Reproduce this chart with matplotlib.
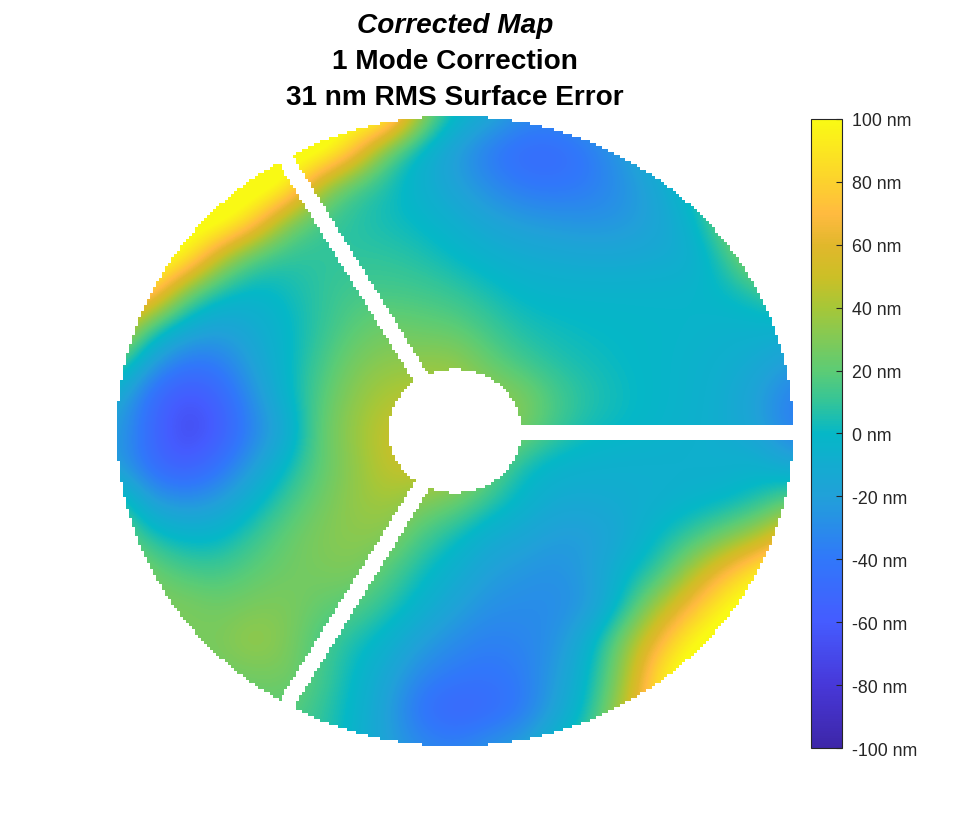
import numpy as np
import matplotlib as mpl
mpl.use("Agg")
import matplotlib.pyplot as plt
from matplotlib.colors import LinearSegmentedColormap, ListedColormap
from matplotlib.transforms import ScaledTranslation

plt.rcParams['font.family'] = ['Liberation Sans', 'DejaVu Sans']

# surface error in nm (top row first), 21 columns x 19 rows
# cells off the mirror are only rough guesses, they get masked anyway
surface_nm = np.array([
    [110, 110, 110, 110, 110, 110, 110, 110, 110, 35, 0, -12, -28, -30, -20, -10, 0, 10, 20, 30, 30],
    [110, 110, 110, 110, 110, 110, 115, 78, 18, -5, -22, -40, -50, -50, -40, -22, -5, 15, 40, 60, 70],
    [110, 110, 110, 110, 115, 105, 40, 12, 4, -7, -18, -30, -40, -42, -38, -28, -15, 5, 30, 60, 90],
    [110, 110, 110, 115, 85, 30, 12, 7, 3, -1, -8, -16, -22, -25, -27, -25, -17, -5, 25, 60, 80],
    [110, 115, 105, 48, 15, 8, 9, 9, 9, 6, 0, -6, -10, -12, -14, -14, -12, -10, 8, 40, 60],
    [105, 88, 27, 4, -3, 2, 9, 14, 14, 13, 10, 4, -2, -4, -4, -4, -4, -3, 0, 8, 20],
    [60, 12, -8, -18, -12, -2, 9, 19, 25, 22, 20, 12, 5, 2, 0, -1, -2, -3, -5, -5, -5],
    [20, -18, -40, -38, -18, -2, 13, 27, 33, 33, 35, 22, 12, 6, 3, 0, -2, -5, -8, -12, -22],
    [-10, -48, -65, -55, -28, -3, 18, 33, 42, 45, 40, 35, 30, 15, 7, 2, -2, -5, -10, -20, -38],
    [-20, -50, -72, -62, -35, -15, 22, 36, 50, 50, 45, 38, 28, 12, 3, 0, -3, -6, -10, -18, -38],
    [-20, -48, -60, -45, -22, 0, 20, 33, 48, 52, 45, 25, 3, -5, -7, -8, -8, -8, -8, -5, -15],
    [15, -20, -28, -22, -5, 12, 25, 35, 40, 30, 25, 10, -3, -12, -12, -10, -8, -4, -2, 5, 20],
    [25, 5, -3, -2, 10, 22, 30, 33, 32, 15, 3, -10, -15, -22, -22, -13, 0, 10, 25, 40, 70],
    [40, 25, 15, 13, 20, 25, 28, 30, 18, 3, -8, -20, -25, -28, -20, -3, 8, 40, 68, 95, 110],
    [30, 30, 30, 25, 28, 30, 22, 18, 8, -5, -18, -28, -30, -30, -25, 3, 40, 68, 100, 115, 110],
    [25, 25, 28, 28, 38, 30, 15, 5, -5, -20, -30, -36, -33, -28, -5, 30, 65, 100, 115, 110, 110],
    [20, 20, 25, 25, 25, 28, 15, 0, -15, -33, -40, -43, -38, -22, 0, 35, 90, 115, 110, 110, 110],
    [20, 20, 20, 20, 20, 20, 10, -2, -20, -45, -55, -50, -40, -18, 5, 45, 90, 110, 110, 110, 110],
    [20, 20, 20, 20, 20, 15, 10, -5, -18, -30, -34, -25, -18, 0, 15, 50, 90, 110, 110, 110, 110],
])
cbar_ticks = [-100, -80, -60, -40, -20, 0, 20, 40, 60, 80, 100]
title_lines = ["Corrected Map", "1 Mode Correction", "31 nm RMS Surface Error"]

# colours picked from the colour bar
cbar_pos = [0.0, 0.1, 0.2, 0.3, 0.4, 0.5, 0.55, 0.6, 0.7, 0.75, 0.8, 0.85, 0.9, 1.0]
cbar_rgb = [(0.24, 0.15, 0.66), (0.28, 0.22, 0.85), (0.27, 0.36, 1.0),
            (0.19, 0.47, 0.98), (0.13, 0.63, 0.85), (0.02, 0.72, 0.78),
            (0.2, 0.77, 0.6), (0.36, 0.8, 0.46), (0.65, 0.78, 0.22),
            (0.8, 0.75, 0.15), (0.88, 0.72, 0.17), (1.0, 0.73, 0.25),
            (0.99, 0.82, 0.18), (0.98, 0.98, 0.08)]
parula = LinearSegmentedColormap.from_list("parula_like", list(zip(cbar_pos, cbar_rgb)))

W, H = 968, 840
fig = plt.figure(figsize=(W / 100, H / 100), dpi=100)


def px_axes(x0, y0, x1, y1):
    return fig.add_axes([x0 / W, 1 - y1 / H, (x1 - x0) / W, (y1 - y0) / H])


ax = px_axes(117, 116, 793, 746)
dx = 2 / (surface_nm.shape[1] - 1) / 2
dy = 2 / (surface_nm.shape[0] - 1) / 2
im = ax.imshow(surface_nm, cmap=parula, vmin=-100, vmax=100, interpolation='bicubic',
               extent=(-1 - dx, 1 + dx, -1 - dy, 1 + dy), aspect='auto')

# white mask for everything off the mirror: outside, centre hole, three struts
nx, ny = 226, 210
u = (np.arange(nx) + 0.5) / nx * 2 - 1
v = 1 - (np.arange(ny) + 0.5) / ny * 2
uu, vv = np.meshgrid(u, v)
rr = np.hypot(uu, vv)
off = (rr > 1) | (rr < 0.196)
for ang in np.radians([0, 120, 240]):
    along = uu * np.cos(ang) + vv * np.sin(ang)
    across = -uu * np.sin(ang) + (vv + 0.0048) * np.cos(ang)
    off |= (along > 0) & (np.abs(across) < 0.024)
ax.imshow(np.ma.masked_where(~off, np.ones_like(rr)), cmap=ListedColormap(['white']),
          interpolation='nearest', extent=(-1, 1, -1, 1), aspect='auto')
ax.set_xlim(-1, 1)
ax.set_ylim(-1, 1)
ax.axis('off')

cax = px_axes(811, 119, 842, 748)
cb = fig.colorbar(im, cax=cax, ticks=cbar_ticks)
cb.ax.set_yticklabels([f"{t} nm" for t in cbar_ticks], va='center')
cb.ax.tick_params(direction='in', length=4.5, width=0.8, color='#262626',
                  labelcolor='#262626', labelsize=12.8, pad=7)
# labels sit a little below their ticks
for lab in cb.ax.get_yticklabels():
    lab.set_transform(lab.get_transform() + ScaledTranslation(0, -3 / 100, fig.dpi_scale_trans))
cb.outline.set_edgecolor('#262626')
cb.outline.set_linewidth(0.8)

fig.text(455 / W, 1 - 26 / H, title_lines[0], ha='center', va='center', fontsize=20.2,
         fontweight='bold', fontstyle='italic', color='black')
fig.text(455 / W, 1 - 62 / H, title_lines[1], ha='center', va='center', fontsize=20.2,
         fontweight='bold', color='black')
fig.text(455 / W, 1 - 98 / H, title_lines[2], ha='center', va='center', fontsize=20.2,
         fontweight='bold', color='black')

fig.savefig("out.png", dpi=100)
